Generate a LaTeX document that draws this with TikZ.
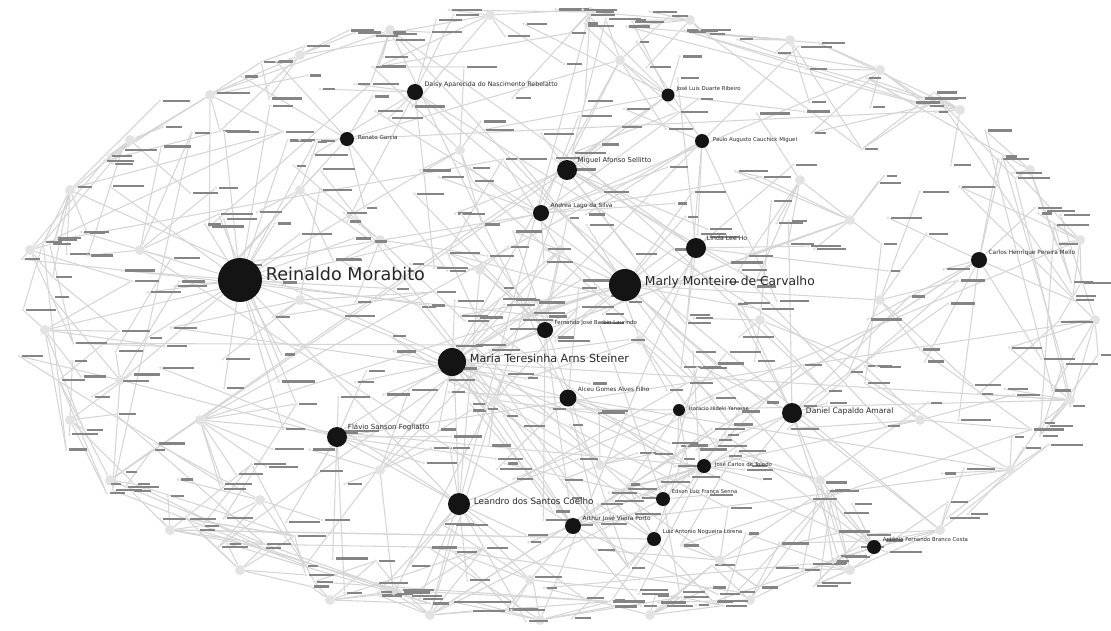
\documentclass[tikz,border=0pt]{standalone}
\usepackage{fontspec}
\setmainfont{DejaVu Sans}
\usetikzlibrary{positioning}
\pgfdeclarelayer{background}
\pgfdeclarelayer{middle}
\pgfsetlayers{background,middle,main}

\begin{document}
\begin{tikzpicture}[x=0.03cm, y=-0.03cm,
authornode/.style={circle, fill=black!92, inner sep=0pt},
hubnode/.style={circle, fill=gray!22, inner sep=0pt, minimum size=0.3cm},
leafnode/.style={circle, fill=gray!25, inner sep=0pt, minimum size=0.09cm},
link/.style={draw=gray!33, line width=0.9pt},
tagmark/.style={fill=black!48},
namelabel/.style={anchor=base west, inner sep=0pt, xshift=3pt, text=black!85}
]
\useasboundingbox (0,0) rectangle (1111,630);
\pgfmathsetseed{31}

%Authors
\node[authornode, minimum size=1.32cm] (reinaldo)   at (240,280) {};
\node[authornode, minimum size=0.96cm] (marly)      at (625,285) {};
\node[authornode, minimum size=0.84cm] (maria)      at (452,362) {};
\node[authornode, minimum size=0.48cm] (daisy)      at (415,92)  {};
\node[authornode, minimum size=0.42cm] (renato)     at (347,139) {};
\node[authornode, minimum size=0.39cm] (joseluis)   at (668,95)  {};
\node[authornode, minimum size=0.42cm] (paulo)      at (702,141) {};
\node[authornode, minimum size=0.60cm] (miguel)     at (567,170) {};
\node[authornode, minimum size=0.48cm] (andrea)     at (541,213) {};
\node[authornode, minimum size=0.60cm] (linda)      at (696,248) {};
\node[authornode, minimum size=0.48cm] (carlos)     at (979,260) {};
\node[authornode, minimum size=0.48cm] (fernando)   at (545,330) {};
\node[authornode, minimum size=0.51cm] (alceu)      at (568,398) {};
\node[authornode, minimum size=0.36cm] (horacio)    at (679,410) {};
\node[authornode, minimum size=0.60cm] (daniel)     at (792,413) {};
\node[authornode, minimum size=0.60cm] (flavio)     at (337,437) {};
\node[authornode, minimum size=0.42cm] (josecarlos) at (704,466) {};
\node[authornode, minimum size=0.42cm] (edson)      at (663,499) {};
\node[authornode, minimum size=0.66cm] (leandro)    at (459,504) {};
\node[authornode, minimum size=0.48cm] (arthur)     at (573,526) {};
\node[authornode, minimum size=0.42cm] (luiz)       at (654,539) {};
\node[authornode, minimum size=0.42cm] (antonio)    at (874,547) {};

%Names
\node[namelabel, font=\fontsize{15}{18}\selectfont]   (reinaldoL)   at (reinaldo.east)   {Reinaldo Morabito};
\node[namelabel, font=\fontsize{10.5}{12}\selectfont] (marlyL)      at (marly.east)      {Marly Monteiro de Carvalho};
\node[namelabel, font=\fontsize{9.5}{11}\selectfont]  (mariaL)      at (maria.east)      {Maria Teresinha Arns Steiner};
\node[namelabel, font=\fontsize{5.4}{6}\selectfont]   (daisyL)      at (daisy.north east) {Daisy Aparecida do Nascimento Rebelatto};
\node[namelabel, font=\fontsize{4.8}{6}\selectfont]   (renatoL)     at (renato.east)     {Renato Garcia};
\node[namelabel, font=\fontsize{4.6}{6}\selectfont]   (joseluisL)   at (joseluis.north east) {José Luis Duarte Ribeiro};
\node[namelabel, font=\fontsize{4.6}{6}\selectfont]   (pauloL)      at (paulo.east)      {Paulo Augusto Cauchick Miguel};
\node[namelabel, font=\fontsize{5.8}{7}\selectfont]   (miguelL)     at (miguel.north east) {Miguel Afonso Sellitto};
\node[namelabel, font=\fontsize{5}{6}\selectfont]     (andreaL)     at (andrea.north east) {Andrea Lago da Silva};
\node[namelabel, font=\fontsize{5.3}{6}\selectfont]   (lindaL)      at (linda.north east) {Linda Lee Ho};
\node[namelabel, font=\fontsize{5}{6}\selectfont]     (carlosL)     at (carlos.north east) {Carlos Henrique Pereira Mello};
\node[namelabel, font=\fontsize{4.6}{6}\selectfont]   (fernandoL)   at (fernando.north east) {Fernando José Barbin Laurindo};
\node[namelabel, font=\fontsize{5}{6}\selectfont]     (alceuL)      at (alceu.north east) {Alceu Gomes Alves Filho};
\node[namelabel, font=\fontsize{4.4}{6}\selectfont]   (horacioL)    at (horacio.east)    {Horacio Hideki Yanasse};
\node[namelabel, font=\fontsize{6.5}{8}\selectfont]   (danielL)     at (daniel.east)     {Daniel Capaldo Amaral};
\node[namelabel, font=\fontsize{6}{7}\selectfont]     (flavioL)     at (flavio.north east) {Flávio Sanson Fogliatto};
\node[namelabel, font=\fontsize{4.6}{6}\selectfont]   (josecarlosL) at (josecarlos.east) {José Carlos de Toledo};
\node[namelabel, font=\fontsize{4.5}{6}\selectfont]   (edsonL)      at (edson.north east) {Edson Luiz França Senna};
\node[namelabel, font=\fontsize{7.5}{9}\selectfont]   (leandroL)    at (leandro.east)    {Leandro dos Santos Coelho};
\node[namelabel, font=\fontsize{5}{6}\selectfont]     (arthurL)     at (arthur.north east) {Arthur José Vieira Porto};
\node[namelabel, font=\fontsize{4.6}{6}\selectfont]   (luizL)       at (luiz.north east) {Luiz Antonio Nogueira Lorena};
\node[namelabel, font=\fontsize{4.6}{6}\selectfont]   (antonioL)    at (antonio.north east) {Antônio Fernando Branco Costa};

%Grey hubs, leaves and their tags
\begin{pgfonlayer}{middle}
\foreach \hx/\hy [count=\i] in {30/250,45/330,70/420,110/480,170/530,240/570,330/600,430/615,540/620,650/615,750/600,850/570,940/530,1010/470,1070/400,1095/320,1080/240,1030/170,960/110,880/70,790/40,690/20,590/12,490/15,390/30,300/55,210/95,130/140,70/190,
140/250,120/380,200/420,260/500,380/470,495/400,600/465,380/240,460/150,800/180,880/300,920/420,720/560,820/480,300/300,530/580,640/340,760/320,850/220,620/60,300/190,480/270,700/470,560/250} {
  \node[hubnode] (g\i) at (\hx,\hy) {};
  \foreach \k in {1,...,6} {
    \pgfmathsetmacro\ang{360*rnd}
    \pgfmathsetmacro\len{25+110*rnd}
    \pgfmathsetmacro\sx{\hx+\len*cos(\ang)}
    \pgfmathsetmacro\sy{\hy+\len*sin(\ang)}
    \pgfmathsetmacro\e{max(0.01,sqrt(((\sx-555)/553)^2+((\sy-313)/309)^2))}
    \pgfmathsetmacro\f{min(1,(0.93+0.07*rnd)/\e)}
    \pgfmathsetmacro\sx{555+(\sx-555)*\f}
    \pgfmathsetmacro\sy{313+(\sy-313)*\f}
    \pgfmathsetmacro\tl{9+24*rnd}
    \node[leafnode] (g\i-\k) at (\sx,\sy) {};
    \fill[tagmark] (\sx+3,\sy-1.1) rectangle ++(\tl,2.2);
  }
}
\foreach \a/\ax/\ay/\cnt in {reinaldo/240/280/24,marly/625/285/16,maria/452/362/14,daisy/415/92/8,renato/347/139/7,joseluis/668/95/7,paulo/702/141/7,miguel/567/170/9,andrea/541/213/7,linda/696/248/8,carlos/979/260/10,fernando/545/330/7,alceu/568/398/8,horacio/679/410/6,daniel/792/413/10,flavio/337/437/10,josecarlos/704/466/6,edson/663/499/6,leandro/459/504/12,arthur/573/526/8,luiz/654/539/7,antonio/874/547/7} {
  \foreach \k in {1,...,\cnt} {
    \pgfmathsetmacro\ang{360*rnd}
    \pgfmathsetmacro\len{35+160*rnd}
    \pgfmathsetmacro\sx{\ax+\len*cos(\ang)}
    \pgfmathsetmacro\sy{\ay+\len*sin(\ang)}
    \pgfmathsetmacro\e{max(0.01,sqrt(((\sx-555)/553)^2+((\sy-313)/309)^2))}
    \pgfmathsetmacro\f{min(1,(0.93+0.07*rnd)/\e)}
    \pgfmathsetmacro\sx{555+(\sx-555)*\f}
    \pgfmathsetmacro\sy{313+(\sy-313)*\f}
    \pgfmathsetmacro\tl{9+24*rnd}
    \node[leafnode] (\a-\k) at (\sx,\sy) {};
    \fill[tagmark] (\sx+3,\sy-1.1) rectangle ++(\tl,2.2);
  }
}
\end{pgfonlayer}

%Lines
\begin{pgfonlayer}{background}
\foreach \i in {1,...,53}
  \foreach \k in {1,...,6}
    \draw[link] (g\i) -- (g\i-\k);
\foreach \a/\cnt in {reinaldo/24,marly/16,maria/14,daisy/8,renato/7,joseluis/7,paulo/7,miguel/9,andrea/7,linda/8,carlos/10,fernando/7,alceu/8,horacio/6,daniel/10,flavio/10,josecarlos/6,edson/6,leandro/12,arthur/8,luiz/7,antonio/7} {
  \foreach \k in {1,...,\cnt}
    \draw[link] (\a) -- (\a-\k);
  \foreach \k in {1,2} {
    \pgfmathtruncatemacro\h{min(53,1+53*rnd)}
    \draw[link] (\a) -- (g\h);
  }
}
\foreach \i [evaluate=\i as \j using {int(mod(\i,29)+1)}] in {1,...,29}
  \draw[link] (g\i) -- (g\j-3);
\foreach \r in {1,...,110} {
  \pgfmathtruncatemacro\ga{min(53,1+53*rnd)}
  \pgfmathtruncatemacro\gb{mod(\ga+int(5*rnd)+50,53)+1}
  \pgfmathtruncatemacro\ka{min(6,1+6*rnd)}
  \pgfmathtruncatemacro\kb{min(6,1+6*rnd)}
  \draw[link] (g\ga-\ka) -- (g\gb-\kb);
}
\end{pgfonlayer}
\end{tikzpicture}
\end{document}
